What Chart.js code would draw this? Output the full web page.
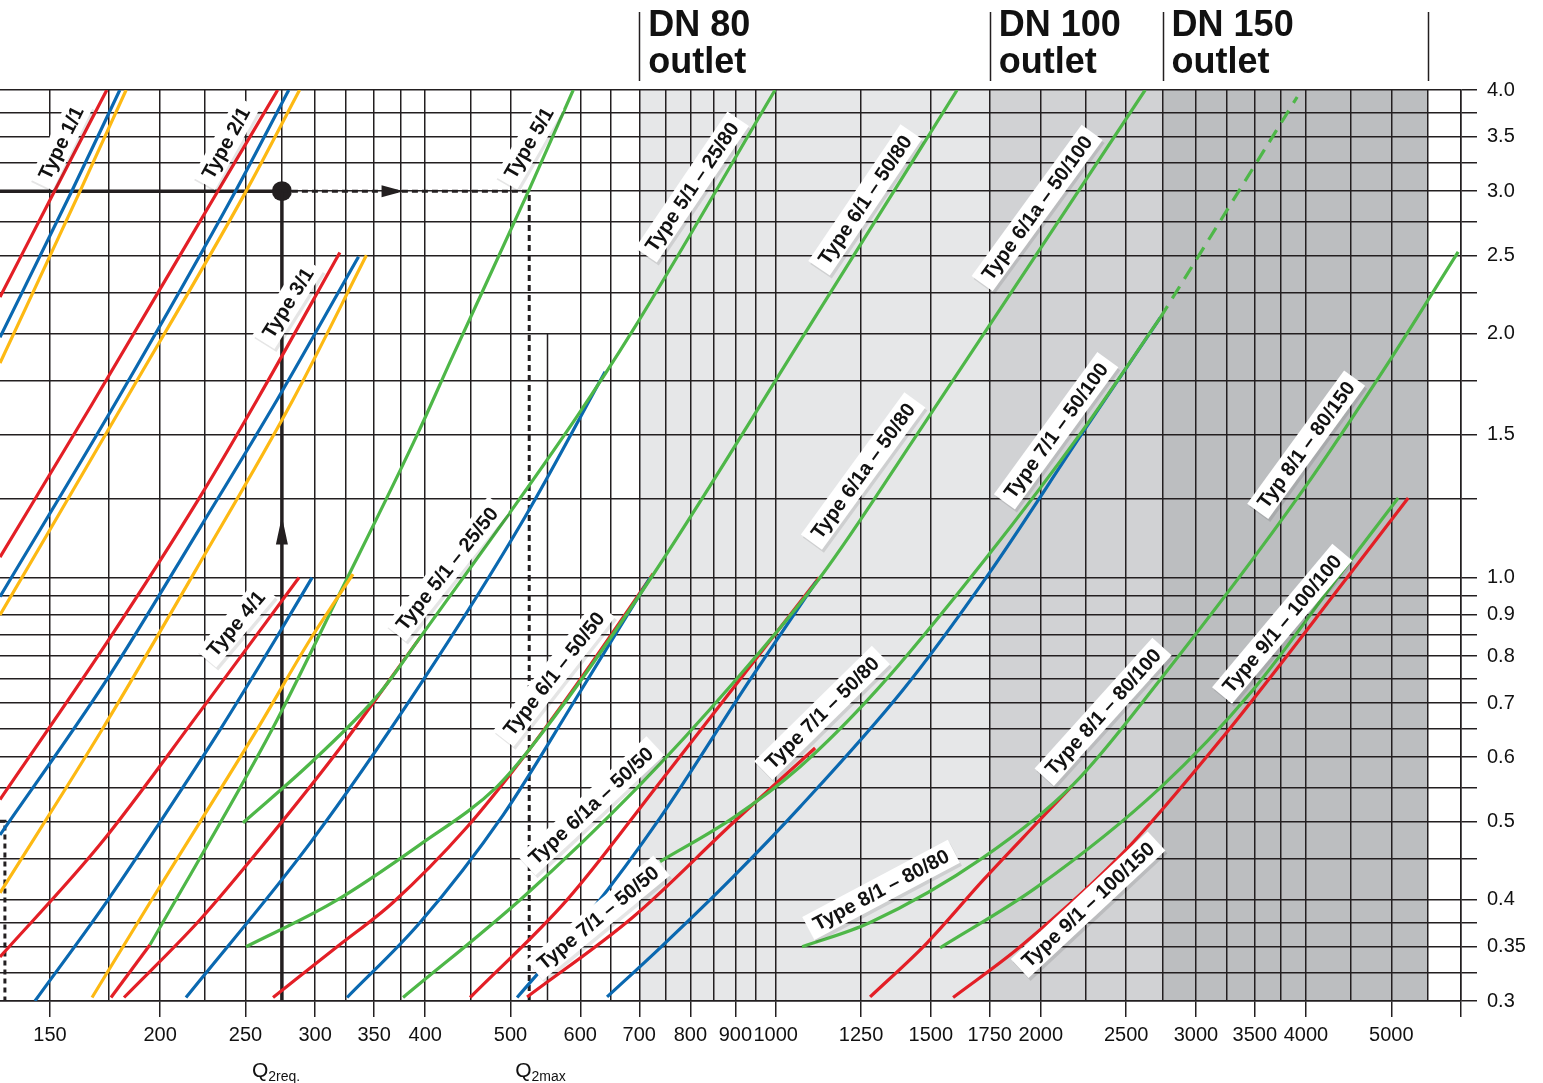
<!DOCTYPE html>
<html>
<head>
<meta charset="utf-8">
<script src="https://cdn.jsdelivr.net/npm/chart.js@4.4.1/dist/chart.umd.min.js"></script>
<style>
  html, body { margin: 0; padding: 0; background: #fff; }
</style>
</head>
<body>
<canvas id="chart" width="1543" height="1083"></canvas>
<script>
// axes: flow (log) and pressure drop (log)
const xMin = 131.6, xMax = 6000;
const yMin = 0.3, yMax = 4.0;
const xGrid = [150, 175, 200, 225, 250, 275, 300, 325, 350, 375, 400, 450, 500, 600, 650, 700, 750, 800, 850, 900, 950,
  1000, 1250, 1500, 1750, 2000, 2250, 2500, 2750, 3000, 3250, 3500, 3750, 4000, 4500, 5000, 5500, 6000];
const xLabels = [150, 200, 250, 300, 350, 400, 500, 600, 700, 800, 900, 1000, 1250, 1500, 1750, 2000, 2500, 3000, 3500, 4000, 5000];
const yGrid = [0.3, 0.325, 0.35, 0.375, 0.4, 0.45, 0.5, 0.55, 0.6, 0.65, 0.7, 0.75, 0.8, 0.85, 0.9, 0.95, 1.0,
  1.25, 1.5, 1.75, 2.0, 2.25, 2.5, 2.75, 3.0, 3.25, 3.5, 3.75, 4.0];
const yLabels = [0.3, 0.35, 0.4, 0.5, 0.6, 0.7, 0.8, 0.9, 1.0, 1.5, 2.0, 2.5, 3.0, 3.5, 4.0];

// outlet zones
const zoneEdges = [700, 1750, 2750, 5500];
const zoneNames = ['DN 80', 'DN 100', 'DN 150'];

// curves [flow, pressure]
const type11Red = [[131.6, 2.22], [152, 3.01], [174, 4.0]];
const type11Blue = [[131.6, 1.98], [159, 3.01], [180, 4.0]];
const type11Yellow = [[131.6, 1.84], [162, 2.99], [183, 4.0]];

const type21Red = [[131.6, 1.06], [167, 1.63], [233, 3.01], [272, 4.0]];
const type21Blue = [[131.6, 0.947], [179, 1.66], [244, 3.01], [280, 4.0]];
const type21Yellow = [[131.6, 0.899], [183, 1.66], [250, 2.99], [288, 4.0]];

const type31Red = [[131.6, 0.532], [174, 0.831], [222, 1.258], [257.7, 1.657], [320, 2.52]];
const type31Blue = [[131.6, 0.481], [174, 0.748], [222, 1.152], [271.5, 1.657], [336, 2.49]];
const type31Yellow = [[131.6, 0.408], [172.3, 0.652], [222, 1.043], [283, 1.657], [343, 2.50]];

const type41Red = [[131.6, 0.340], [170.9, 0.468], [222, 0.683], [287.6, 1.0]];
const type41Blue = [[144.2, 0.3], [174, 0.398], [200, 0.499], [234, 0.649], [271.5, 0.845], [297.6, 1.0]];
const type41Yellow = [[167.4, 0.303], [194.8, 0.397], [222, 0.499], [257.7, 0.649], [296, 0.838], [318.5, 0.947], [331.2, 1.01]];

const type51Green = [[194.8, 0.352], [268, 0.649], [318.5, 0.947], [392.6, 1.509], [427.9, 1.857], [524, 3.0], [589, 4.0]];
const type51Red = [[175.9, 0.303], [194.8, 0.352]];

const type51sGreen = [[248.4, 0.498], [298.3, 0.594], [355.5, 0.721], [394.6, 0.843], [593.4, 1.575], [688.8, 2.022], [998.5, 4.0]];
const type51sRed = [[182, 0.303], [222, 0.378], [264.5, 0.474], [320.2, 0.616], [394.6, 0.843]];
const type51sBlue = [[214, 0.303], [296, 0.470], [394.6, 0.737], [519.3, 1.188], [640.2, 1.795]];

const type61Green = [[250.4, 0.35], [314.3, 0.397], [394.6, 0.468], [482.7, 0.552], [544.4, 0.645], [725.8, 1.008],
  [1085.6, 2.022], [1607, 4.0]];
const type61Red = [[268.7, 0.303], [317.7, 0.35], [367.7, 0.397], [446.3, 0.492], [516.6, 0.599], [599.7, 0.748], [725.8, 1.011]];
const type61Blue = [[326.1, 0.303], [394.6, 0.375], [490.3, 0.509], [591.9, 0.706], [720.1, 0.999]];

const type61aGreen = [[377.5, 0.303], [516.6, 0.403], [696.1, 0.55], [894.7, 0.741], [1123.2, 1.0], [1458.8, 1.522], [2627.4, 4.0]];
const type61aRed = [[449.8, 0.303], [579.6, 0.4], [735.3, 0.555], [904.2, 0.741], [1120.3, 1.0]];
const type61aBlue = [[508.6, 0.303], [615.5, 0.386], [739.2, 0.505], [935.3, 0.748], [1111.5, 0.988]];

const type71Red = [[522.1, 0.3035], [688.8, 0.381], [894.7, 0.498], [1108.6, 0.616]];
const type71Green = [[739.2, 0.446], [894.7, 0.505], [1065.9, 0.584], [1303.7, 0.727], [1738.2, 1.061], [2234.1, 1.522], [2732.4, 2.092]];
const type71Blue = [[643.5, 0.3035], [739.2, 0.349], [894.7, 0.427], [1065.9, 0.521], [1395.4, 0.727], [1733.6, 1.0],
  [2234.1, 1.513], [2732.4, 2.092]];
const type71Ext = [[2732.4, 2.092], [3909.5, 3.921]];

const type81Green = [[1071.5, 0.35], [1280, 0.375], [1720.1, 0.451], [2176.4, 0.555], [2732.4, 0.748], [3971.4, 1.283],
  [4985.9, 1.857], [5956, 2.524]];
const type81Red = [[1280, 0.3035], [1485.8, 0.354], [1720.1, 0.423], [1980.9, 0.498], [2170.7, 0.553]];

const type91Green = [[1537.1, 0.349], [1980.9, 0.415], [2732.4, 0.55], [3484.7, 0.727], [4455.9, 1.037], [5091.3, 1.254]];
const type91Red = [[1590.2, 0.303], [1894.8, 0.35], [2480.4, 0.457], [3221.8, 0.636], [4455.9, 1.0], [5226.2, 1.254]];

// reading example
const q2req = 275, q2max = 525, pReq = 3.0;
const qLeft = 133.3, pLeft = 0.5;

const RED = '#e31f26', BLUE = '#0a68b0', YELLOW = '#fdb913', GREEN = '#4eb748';
const GRID = '#231f20';
const FONT = '"Liberation Sans", Arial, Helvetica, sans-serif';

const curves = [
  [type11Yellow, YELLOW], [type21Yellow, YELLOW], [type31Yellow, YELLOW], [type41Yellow, YELLOW],
  [type11Blue, BLUE], [type21Blue, BLUE], [type31Blue, BLUE], [type41Blue, BLUE],
  [type11Red, RED], [type21Red, RED], [type31Red, RED], [type41Red, RED],
  [type51Green, GREEN], [type51Red, RED],
  [type51sGreen, GREEN], [type51sBlue, BLUE], [type51sRed, RED],
  [type61Green, GREEN], [type61Blue, BLUE], [type61Red, RED],
  [type61aGreen, GREEN], [type61aBlue, BLUE], [type61aRed, RED],
  [type71Green, GREEN], [type71Blue, BLUE], [type71Red, RED],
  [type81Green, GREEN], [type81Red, RED],
  [type91Green, GREEN], [type91Red, RED]
];

const labelSpots = [
  ['Type 1/1', 154.4, 3.44, -64],
  ['Type 2/1', 237.6, 3.44, -61],
  ['Type 3/1', 279.4, 2.183, -58],
  ['Type 4/1', 243.9, 0.877, -50],
  ['Type 5/1', 524.8, 3.44, -60],
  ['Type 5/1 – 25/50', 423.5, 1.025, -51.5],
  ['Type 5/1 – 25/80', 803.7, 3.036, -56],
  ['Type 6/1 – 50/50', 560.2, 0.7605, -52],
  ['Type 6/1 – 50/80', 1263.5, 2.926, -56],
  ['Type 6/1a – 50/50', 617.1, 0.5225, -43],
  ['Type 6/1a – 50/80', 1256.9, 1.354, -54],
  ['Type 6/1a – 50/100', 1980.9, 2.86, -54],
  ['Type 7/1 – 50/50', 628.5, 0.380, -39.5],
  ['Type 7/1 – 50/80', 1129.1, 0.6807, -44.5],
  ['Type 7/1 – 50/100', 2081.8, 1.518, -54],
  ['Type 8/1 – 80/80', 1317.3, 0.4115, -28],
  ['Type 8/1 – 80/100', 2354, 0.6826, -48],
  ['Typ 8/1 – 80/150', 4002.6, 1.4586, -54],
  ['Type 9/1 – 100/100', 3759, 0.8767, -50],
  ['Type 9/1 – 100/150', 2263.4, 0.3944, -43]
];

const pts = a => a.map(([x, y]) => ({ x, y }));

const datasets = curves.map(([d, c]) => ({
  data: pts(d), borderColor: c, borderWidth: 3.2, showLine: true, pointRadius: 0,
  cubicInterpolationMode: 'monotone', fill: false
}));
datasets.push({ data: pts(type71Ext), borderColor: GREEN, borderWidth: 3.2, showLine: true, pointRadius: 0, borderDash: [14, 9] });

// reading lines
const blk = { borderColor: GRID, showLine: true, pointRadius: 0, tension: 0, fill: false };
datasets.push({ ...blk, data: pts([[xMin, pReq], [q2req, pReq]]), borderWidth: 3.5 });
datasets.push({ ...blk, data: pts([[q2req, yMin], [q2req, pReq]]), borderWidth: 3.5 });
datasets.push({ ...blk, data: pts([[q2req, pReq], [q2max, pReq]]), borderWidth: 3, borderDash: [6, 4] });
datasets.push({ ...blk, data: pts([[q2max, yMin], [q2max, pReq]]), borderWidth: 3, borderDash: [6, 4] });
datasets.push({ ...blk, data: pts([[xMin, pLeft], [qLeft, pLeft], [qLeft, yMin]]), borderWidth: 3, borderDash: [5, 4] });
datasets.push({ data: pts([[q2req, pReq]]), pointRadius: 10, pointBackgroundColor: GRID, pointBorderWidth: 0, showLine: false });

const backdrop = {
  id: 'backdrop',
  beforeDraw(chart) {
    const { ctx, chartArea: a, scales: { x } } = chart;
    const shades = ['#e6e7e8', '#d1d2d4', '#bcbec0'];
    ctx.save();
    for (let i = 0; i < 3; i++) {
      const l = x.getPixelForValue(zoneEdges[i]), r = x.getPixelForValue(zoneEdges[i + 1]);
      ctx.fillStyle = shades[i];
      ctx.fillRect(l, a.top, r - l, a.bottom - a.top);
    }
    ctx.restore();
  },
  beforeDatasetsDraw(chart) {
    // the 550 line only runs in the lower part
    const { ctx, scales: { x, y } } = chart;
    const px = Math.round(x.getPixelForValue(550)) + 0.5;
    ctx.save();
    ctx.strokeStyle = GRID;
    ctx.lineWidth = 1.5;
    ctx.beginPath();
    ctx.moveTo(px, y.getPixelForValue(2.0));
    ctx.lineTo(px, y.getPixelForValue(yMin));
    ctx.stroke();
    ctx.restore();
  }
};

const notes = {
  id: 'notes',
  afterDatasetsDraw(chart) {
    const { ctx, scales: { x, y } } = chart;
    ctx.save();
    // arrow heads
    ctx.fillStyle = GRID;
    let tx = x.getPixelForValue(378), ty = y.getPixelForValue(pReq);
    ctx.beginPath();
    ctx.moveTo(tx, ty); ctx.lineTo(tx - 22, ty - 6); ctx.lineTo(tx - 22, ty + 6); ctx.closePath(); ctx.fill();
    tx = x.getPixelForValue(q2req); ty = y.getPixelForValue(1.19);
    ctx.beginPath();
    ctx.moveTo(tx, ty); ctx.lineTo(tx - 6, ty + 28); ctx.lineTo(tx + 6, ty + 28); ctx.closePath(); ctx.fill();

    // curve labels
    ctx.font = 'bold 20px ' + FONT;
    ctx.textAlign = 'center';
    ctx.textBaseline = 'middle';
    for (const [text, xv, yv, ang] of labelSpots) {
      const px = x.getPixelForValue(xv), py = y.getPixelForValue(yv);
      const w = ctx.measureText(text).width + 14, h = 26;
      ctx.save();
      ctx.translate(px, py);
      ctx.rotate(ang * Math.PI / 180);
      ctx.shadowColor = 'rgba(0,0,0,0.10)';
      ctx.shadowOffsetX = 2;
      ctx.shadowOffsetY = 3;
      ctx.fillStyle = '#fff';
      ctx.fillRect(-w / 2, -h / 2, w, h);
      ctx.shadowColor = 'rgba(0,0,0,0)';
      ctx.fillStyle = '#111';
      ctx.fillText(text, 0, 1);
      ctx.restore();
    }
    ctx.restore();
  },
  afterDraw(chart) {
    const { ctx, scales: { x } } = chart;
    ctx.save();
    ctx.strokeStyle = GRID;
    ctx.lineWidth = 1.5;
    for (const v of zoneEdges) {
      const px = Math.round(x.getPixelForValue(v)) + 0.5;
      ctx.beginPath(); ctx.moveTo(px, 12); ctx.lineTo(px, 81); ctx.stroke();
    }
    ctx.fillStyle = '#111';
    ctx.font = 'bold 36px ' + FONT;
    ctx.textBaseline = 'alphabetic';
    zoneNames.forEach((n, i) => {
      const px = x.getPixelForValue(zoneEdges[i]) + 9;
      ctx.fillText(n, px, 36);
      ctx.fillText('outlet', px, 73);
    });
    // Q labels
    const qLabel = (sub, v, off) => {
      const px = x.getPixelForValue(v) - off;
      ctx.font = '21px ' + FONT;
      ctx.fillText('Q', px, 1077);
      const w = ctx.measureText('Q').width;
      ctx.font = '14px ' + FONT;
      ctx.fillText(sub, px + w, 1081);
    };
    qLabel('2req.', q2req, 30);
    qLabel('2max', q2max, 14);
    ctx.restore();
  }
};

new Chart(document.getElementById('chart'), {
  type: 'scatter',
  data: { datasets },
  options: {
    responsive: false,
    animation: false,
    devicePixelRatio: 1,
    layout: { autoPadding: false, padding: { top: 90, left: 0, right: 0, bottom: 0 } },
    plugins: { legend: { display: false }, tooltip: { enabled: false } },
    scales: {
      x: {
        type: 'logarithmic', min: xMin, max: xMax,
        afterBuildTicks: s => { s.ticks = xGrid.map(v => ({ value: v })); },
        afterFit: s => { s.height = 82; },
        grid: {
          color: GRID, lineWidth: 1.5, tickLength: 16,
          tickColor: c => (c.tick && (xLabels.includes(c.tick.value) || c.tick.value === xMax)) ? GRID : 'rgba(0,0,0,0)'
        },
        border: { color: GRID, width: 1.5 },
        ticks: {
          autoSkip: false, maxRotation: 0, padding: 6, color: '#111',
          font: { size: 20, family: FONT },
          callback: v => xLabels.includes(v) ? String(v) : ''
        }
      },
      y: {
        type: 'logarithmic', position: 'right', min: yMin, max: yMax,
        afterBuildTicks: s => { s.ticks = yGrid.map(v => ({ value: v })); },
        afterFit: s => { s.width = 82; },
        grid: { color: GRID, lineWidth: 1.5, tickLength: 16 },
        border: { color: GRID, width: 1.5 },
        ticks: {
          autoSkip: false, padding: 10, color: '#111',
          font: { size: 20, family: FONT },
          callback: v => yLabels.includes(v) ? (v === 0.35 ? '0.35' : v.toFixed(1)) : ''
        }
      }
    }
  },
  plugins: [backdrop, notes]
});
</script>
</body>
</html>
